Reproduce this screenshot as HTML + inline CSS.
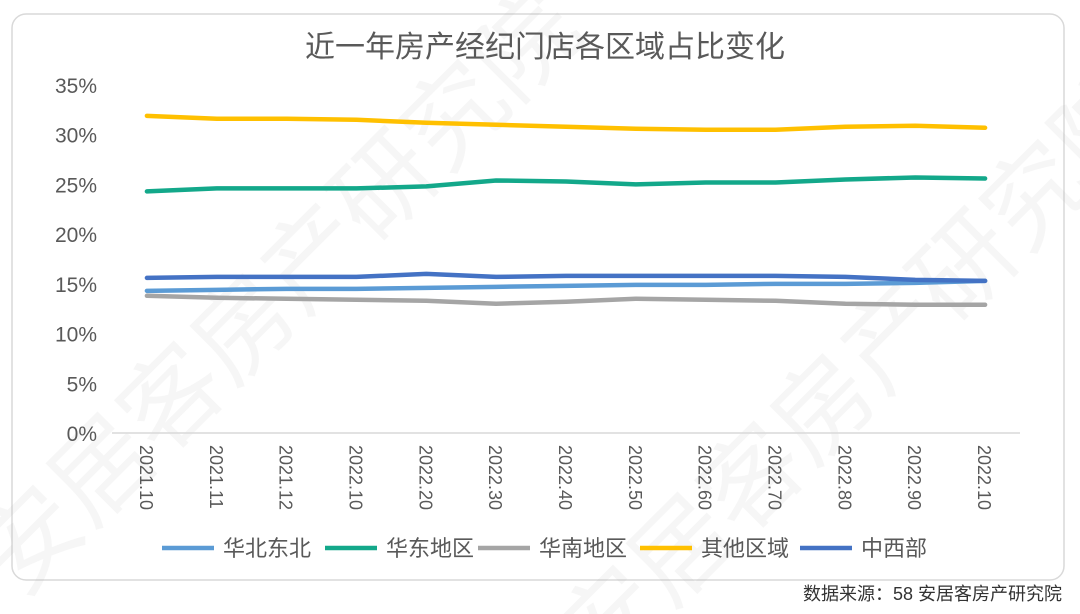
<!DOCTYPE html>
<html><head><meta charset="utf-8"><style>
html,body{margin:0;padding:0;background:#fff;overflow:hidden;width:1080px;height:614px;font-family:"Liberation Sans","Noto Sans CJK SC",sans-serif;}
svg{display:block;}
svg text{font-family:"Liberation Sans","Noto Sans CJK SC",sans-serif;}
</style></head><body>
<svg id="chart" width="1080" height="614" viewBox="0 0 1080 614">
<rect x="12" y="14" width="1052" height="566" rx="14" fill="#fff" stroke="#d9d9d9" stroke-width="1.5"/>
<g opacity="0.08" fill="#999" font-size="100">
<text x="20" y="600" transform="rotate(-45 20 600)">安居客房产研究院</text>
<text x="600" y="680" transform="rotate(-45 600 680)">安居客房产研究院</text>
</g>
<text x="545" y="57" text-anchor="middle" font-size="30" fill="#595959">近一年房产经纪门店各区域占比变化</text>
<g id="yaxis"></g>
<g id="xaxis"></g>
<g id="series"></g>
<g id="legend"></g>
<text x="1062" y="600" text-anchor="end" font-size="18" fill="#333">数据来源：58 安居客房产研究院</text>
</svg>
<script>
const categories=["2021.10","2021.11","2021.12","2022.10","2022.20","2022.30","2022.40","2022.50","2022.60","2022.70","2022.80","2022.90","2022.10"];
const seriesNames=["华北东北","华东地区","华南地区","其他区域","中西部"];
const northEast=[14.3,14.4,14.5,14.5,14.6,14.7,14.8,14.9,14.9,15.0,15.0,15.1,15.3];
const east=[24.3,24.6,24.6,24.6,24.8,25.4,25.3,25.0,25.2,25.2,25.5,25.7,25.6];
const south=[13.8,13.6,13.5,13.4,13.3,13.0,13.2,13.5,13.4,13.3,13.0,12.9,12.9];
const other=[31.9,31.6,31.6,31.5,31.2,31.0,30.8,30.6,30.5,30.5,30.8,30.9,30.7];
const midWest=[15.6,15.7,15.7,15.7,16.0,15.7,15.8,15.8,15.8,15.8,15.7,15.4,15.3];
const yTicks=[0,5,10,15,20,25,30,35];
const colors=["#5b9bd5","#13a88a","#a5a5a5","#ffc000","#4472c4"];
const NS="http://www.w3.org/2000/svg";
const x0=112,x1=1020,y0=433,y35=85;
const step=(x1-x0)/categories.length;
const xs=i=>x0+step*(i+0.5);
const ys=v=>y0-(v/35)*(y0-y35);
function mk(tag,attrs,parent){const e=document.createElementNS(NS,tag);for(const k in attrs)e.setAttribute(k,attrs[k]);parent.appendChild(e);return e;}
const ya=document.getElementById('yaxis');
yTicks.forEach(t=>{const tx=mk('text',{x:97,y:ys(t)+8,'text-anchor':'end','font-size':'21',fill:'#595959'},ya);tx.textContent=t+'%';

});
const xa=document.getElementById('xaxis');
const axl=mk('line',{x1:x0,x2:x1,y1:y0,y2:y0,stroke:'#d9d9d9','stroke-width':1.5},xa);


categories.forEach((c,i)=>{const x=xs(i);const tx=mk('text',{x:0,y:0,'font-size':'18',fill:'#595959',transform:`translate(${x-7},445) rotate(90)`},xa);tx.textContent=c;

});
const all=[northEast,east,south,other,midWest];
const sg=document.getElementById('series');
all.forEach((d,si)=>{const p=mk('polyline',{points:d.map((v,i)=>xs(i)+','+ys(v)).join(' '),fill:'none',stroke:colors[si],'stroke-width':4.5,'stroke-linejoin':'round','stroke-linecap':'round'},sg);

});
const lg=document.getElementById('legend');
const lx=[162,325,478,640,800];
seriesNames.forEach((n,i)=>{const g=mk('g',{},lg);


mk('line',{x1:lx[i],x2:lx[i]+52,y1:548,y2:548,stroke:colors[i],'stroke-width':4.5},g);
const t=mk('text',{x:lx[i]+61,y:556,'font-size':'22',fill:'#595959'},g);t.textContent=n;});
</script>
</body></html>
